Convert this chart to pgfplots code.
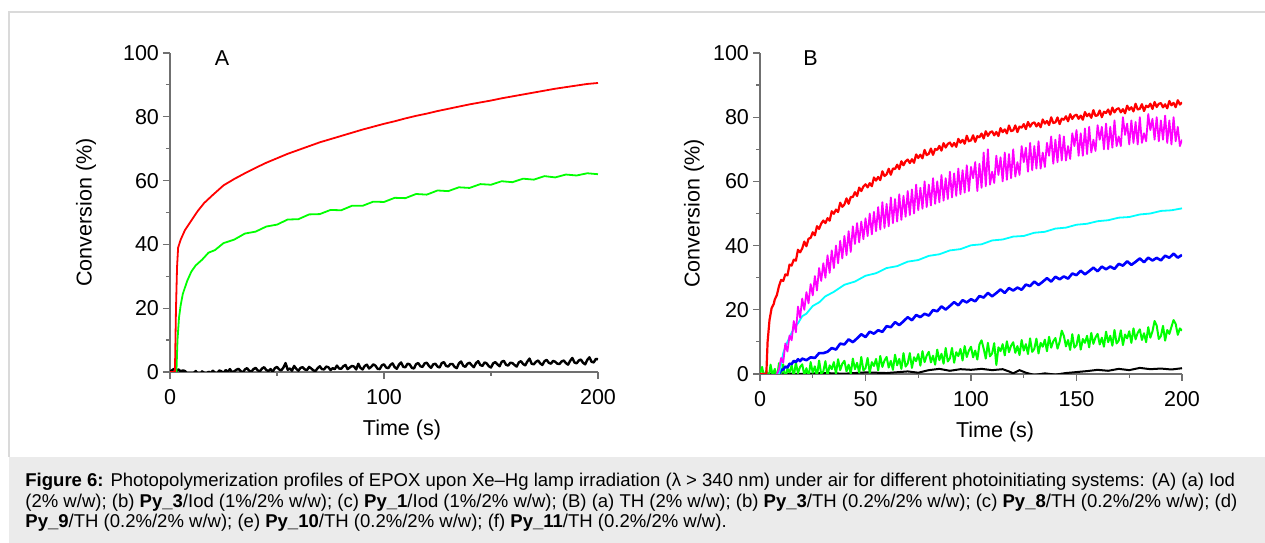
\documentclass[border=0pt]{standalone}
\usepackage{pgfplots}
\pgfplotsset{compat=1.18}
\usepackage{fontspec}
\setmainfont{Liberation Sans}
\definecolor{framegray}{HTML}{DADADA}
\definecolor{capgray}{HTML}{EBEBEB}
\definecolor{axgray}{HTML}{707070}
\definecolor{pR}{RGB}{255,0,0}
\definecolor{pG}{RGB}{0,255,0}
\definecolor{pB}{RGB}{0,0,255}
\definecolor{pC}{RGB}{0,255,255}
\definecolor{pM}{RGB}{255,0,255}
\pgfplotsset{
  myaxis/.style={
    scale only axis,
    anchor=south west,
    xmin=0, xmax=200, ymin=0, ymax=100,
    axis lines=left,
    axis line style={-, draw=axgray, line width=0.6bp},
    tick style={draw=axgray, line width=0.6bp},
    major tick length=3.5bp,
    minor tick length=2bp,
    tick align=outside,
    ytick={0,20,...,100},
    minor ytick={10,30,...,90},
    /pgf/number format/assume math mode=true,
    tick label style={font=\fontsize{10.8}{12}\selectfont},
    label style={font=\fontsize{10.8}{12}\selectfont},
    xticklabel style={yshift=-1.5bp},
    yticklabel style={xshift=1.5bp},
    ylabel={Conversion (\%)},
    xlabel={Time (s)},
    clip mode=individual,
    line join=round,
  }
}
\begin{document}
\begin{tikzpicture}
\useasboundingbox (0,0) rectangle (632.5bp,271.5bp);
\fill[white] (0,0) rectangle (632.5bp,271.5bp);
\fill[capgray] (4.5bp,0) rectangle (632.5bp,43bp);
\draw[framegray, line width=0.9bp] (4.5bp,43bp) -- (4.5bp,265.5bp) -- (632.5bp,265.5bp);

% ---------------- Panel A ----------------
\begin{axis}[myaxis,
  at={(85bp,85.5bp)}, width=214bp, height=159.5bp,
  xtick={0,100,200}, minor xtick={50,150},
  xlabel style={at={(axis description cs:0.542,0)}, anchor=center, yshift=-29bp},
  ylabel style={at={(axis description cs:-0.196,0.5)}, anchor=center},
]
\addplot[black, line width=1.2bp] coordinates {
(0,0) (1,0.6) (2,1.0) (3,0.4) (4,0.8) (5,0.2) (6,0.5) (7,0.3) (8,-0.5) (9,-0.8)
(10,-1) (11,-0.4) (12,0.3) (13,-0.6) (14,-0.9) (15,0.2) (16,-0.3) (17,-0.7) (18,0.1) (19,-0.4)
(20,0.4) (21,-0.2) (22,-0.6) (23,0.5) (24,0.2) (25,-0.3) (26,0.6) (27,0.1) (28,0.9) (29,-0.1)
(30,0.2) (31,0.7) (32,1.0) (33,0.3) (34,-0.2) (35,0.8) (36,1.2) (37,0.4) (38,0.1) (39,0.9)
(40,1.3) (41,0.5) (42,0.2) (43,1.1) (44,1.5) (45,0.6) (46,0.3) (47,0.9) (48,0.1) (49,1.2)
(50,1.6) (51,0.8) (52,0.5) (53,1.4) (54,2.8) (55,0.7) (56,1.1) (57,0.4) (58,1.9) (59,1.0)
(60,0.4) (61,1.3) (62,1.5) (63,0.8) (64,0.6) (65,1.6) (66,1.1) (67,0.5) (68,0.3) (69,1.2)
(70,1.8) (71,0.9) (72,0.8) (73,1.7) (74,1.5) (75,0.6) (76,1.2) (77,0.9) (78,2.0) (79,1.1)
(80,1.0) (81,1.8) (82,2.2) (83,0.9) (84,1.4) (85,1.9) (86,1.7) (87,0.8) (88,2.6) (89,1.3)
(90,0.8) (91,1.9) (92,2.3) (93,1.1) (94,1.6) (95,2.4) (96,2.0) (97,1.0) (98,0.9) (99,2.1)
(100,2.4) (101,1.4) (102,1.2) (103,2.2) (104,2.7) (105,1.5) (106,1.0) (107,2.3) (108,3.0) (109,1.6)
(110,1.5) (111,2.6) (112,2.4) (113,1.3) (114,1.1) (115,2.5) (116,2.8) (117,1.8) (118,1.6) (119,2.7)
(120,2.9) (121,1.9) (122,1.3) (123,2.4) (124,2.6) (125,1.7) (126,1.4) (127,2.8) (128,3.1) (129,1.9)
(130,1.7) (131,2.5) (132,2.5) (133,1.6) (134,1.2) (135,2.7) (136,3.3) (137,2.0) (138,1.6) (139,2.6)
(140,2.9) (141,2.1) (142,1.5) (143,2.8) (144,3.4) (145,2.2) (146,1.9) (147,3.0) (148,2.7) (149,1.8)
(150,1.4) (151,2.7) (152,3.1) (153,2.4) (154,1.8) (155,3.2) (156,3.5) (157,2.3) (158,2.0) (159,2.9)
(160,2.8) (161,2.2) (162,1.7) (163,3.0) (164,3.4) (165,2.5) (166,2.1) (167,3.3) (168,4.2) (169,2.6)
(170,2.4) (171,3.2) (172,3.6) (173,2.7) (174,2.2) (175,3.4) (176,3.8) (177,2.9) (178,2.6) (179,3.5)
(180,3.2) (181,2.6) (182,2.5) (183,3.3) (184,3.6) (185,2.8) (186,2.3) (187,3.5) (188,4.4) (189,3.0)
(190,2.7) (191,3.6) (192,3.9) (193,2.9) (194,2.4) (195,3.8) (196,4.6) (197,3.2) (198,3.0) (199,4.1)
(200,4.0)};
\addplot[pG, line width=0.9bp] coordinates {
(0,0) (3,0) (3.5,10) (4.2,17) (5,21) (6,24.5) (8,28.5) (10,31.5) (12,33.4) (15,35.2)
(18,37.4) (21,38.2) (25,40.4) (30,41.5) (35,43.4) (40,44.0) (45,45.6) (50,46.2) (55,47.8) (60,47.9)
(65,49.4) (70,49.5) (75,50.8) (80,50.7) (85,52.1) (90,52.1) (95,53.4) (100,53.3) (105,54.6) (110,54.5)
(115,55.8) (120,55.6) (125,56.9) (130,56.7) (135,57.9) (140,57.7) (145,58.9) (150,58.7) (155,59.8) (160,59.5)
(165,60.6) (170,60.3) (175,61.4) (180,61.0) (185,61.9) (190,61.6) (195,62.3) (200,62.0)};
\addplot[pR, line width=0.9bp] coordinates {
(0,0) (2.3,0) (2.8,20) (3.3,33) (3.8,39) (5,41.5) (7,44.5) (10,47.5) (13,50.5) (16,53)
(20,55.5) (25,58.5) (30,60.5) (35,62.3) (40,64) (45,65.6) (50,67) (55,68.4) (60,69.6) (65,70.8)
(70,72) (75,73) (80,74) (85,75) (90,76) (95,76.9) (100,77.8) (105,78.6) (110,79.5) (115,80.3)
(120,81) (125,81.8) (130,82.5) (135,83.2) (140,83.9) (145,84.5) (150,85.1) (155,85.8) (160,86.4) (165,87)
(170,87.6) (175,88.2) (180,88.8) (185,89.3) (190,89.8) (195,90.3) (200,90.6)};
\node[font=\fontsize{10.8}{12}\selectfont] at (axis cs:24.3,98.5) {A};
\end{axis}

% ---------------- Panel B ----------------
\begin{axis}[myaxis,
  at={(380bp,84.5bp)}, width=211bp, height=160.5bp,
  xtick={0,50,...,200}, minor xtick={25,75,...,175},
  xlabel style={at={(axis description cs:0.557,0)}, anchor=center, yshift=-29bp},
  ylabel style={at={(axis description cs:-0.156,0.5)}, anchor=center},
]
\addplot[black, line width=1bp] coordinates {
(0,0) (10,0.2) (20,0) (30,0.3) (40,0.1) (50,0.5) (60,0.3) (70,0.8) (75,0.4) (80,1.2)
(85,1.6) (90,1.0) (95,1.5) (100,1.3) (105,1.6) (110,1.2) (115,1.5) (118,0.8) (120,0.2) (123,1.2)
(126,0.4) (130,-0.3) (135,0.2) (140,-0.2) (145,0.3) (150,0.6) (155,0.9) (160,1.3) (165,1.0) (170,1.6)
(175,1.2) (180,1.9) (185,1.5) (190,1.7) (195,1.4) (200,1.8)};
\addplot[pG, line width=1bp] coordinates {
(0,0) (1,2.2) (2,-1.1) (3,1.0) (4,-1.8) (5,2.9) (6,-0.4) (7,1.6) (8,-1.5) (9,3.4)
(10,-0.2) (11,3.0) (12,-1.6) (13,1.7) (14,0.5) (15,2.7) (16,-0.9) (17,3.6) (18,0.2) (19,2.2)
(20,3.0) (21,-0.3) (22,1.8) (23,-1.0) (24,3.7) (25,0.4) (26,2.4) (27,-0.7) (28,4.2) (29,0.0)
(30,0.8) (31,4.0) (32,-0.6) (33,2.7) (34,1.5) (35,3.7) (36,0.1) (37,4.6) (38,1.2) (39,3.2)
(40,4.1) (41,0.8) (42,2.9) (43,0.1) (44,4.8) (45,1.5) (46,3.5) (47,0.4) (48,5.3) (49,1.1)
(50,1.8) (51,5.0) (52,0.4) (53,3.7) (54,2.5) (55,4.7) (56,1.1) (57,5.6) (58,2.2) (59,4.2)
(60,5.3) (61,2.0) (62,4.1) (63,1.3) (64,6.0) (65,2.7) (66,4.7) (67,1.6) (68,6.5) (69,2.3)
(70,3.3) (71,6.5) (72,1.9) (73,5.2) (74,4.0) (75,6.2) (76,2.6) (77,7.1) (78,3.7) (79,5.7)
(80,6.9) (81,3.6) (82,5.7) (83,2.9) (84,7.6) (85,4.3) (86,6.3) (87,3.2) (88,8.1) (89,3.9)
(90,4.9) (91,8.1) (92,3.5) (93,6.8) (94,5.6) (95,7.8) (96,4.2) (97,8.7) (98,5.3) (99,7.3)
(100,8.5) (101,5.2) (102,7.3) (103,4.5) (104,9.2) (105,10.5) (106,7.9) (107,4.8) (108,9.7) (109,5.5)
(110,6.4) (111,9.6) (112,2.8) (113,8.3) (114,7.1) (115,9.3) (116,5.8) (117,10.2) (118,6.8) (119,8.8)
(120,9.9) (121,6.6) (122,8.7) (123,5.9) (124,10.6) (125,7.3) (126,9.3) (127,6.2) (128,11.1) (129,6.9)
(130,7.8) (131,11.0) (132,6.4) (133,9.7) (134,8.5) (135,10.7) (136,7.1) (137,11.6) (138,8.2) (139,10.2)
(140,11.2) (141,7.9) (142,10.0) (143,13.5) (144,11.9) (145,8.6) (146,10.6) (147,7.5) (148,12.4) (149,8.2)
(150,9.0) (151,12.2) (152,7.6) (153,10.9) (154,9.7) (155,11.9) (156,8.3) (157,12.8) (158,9.4) (159,11.4)
(160,12.5) (161,9.2) (162,11.3) (163,8.5) (164,13.2) (165,9.9) (166,11.9) (167,8.8) (168,13.7) (169,9.5)
(170,10.4) (171,13.6) (172,9.0) (173,12.3) (174,11.1) (175,13.3) (176,9.7) (177,14.2) (178,10.8) (179,12.8)
(180,13.9) (181,10.6) (182,12.7) (183,9.9) (184,14.6) (185,11.3) (186,13.3) (187,16.5) (188,15.1) (189,10.9)
(190,11.8) (191,15.0) (192,10.4) (193,13.7) (194,12.5) (195,14.7) (196,16.8) (197,15.6) (198,12.2) (199,14.2)
(200,13.5)};
\addplot[pB, line width=1.3bp] coordinates {
(9,0) (10,1.2) (11,1.4) (12,2.3) (13,2.0) (14,3.2) (15,3.1) (16,4.1) (17,3.7) (18,4.6)
(19,4.0) (20,4.8) (22,4.3) (24,5.2) (26,5.0) (28,6.5) (30,6.5) (32,6.94) (34,8.08) (36,7.62)
(38,9.46) (40,9.2) (42,10.8) (44,9.9) (46,11.1) (48,12.4) (50,11.5) (52,13.18) (54,12.56) (56,13.64)
(58,13.12) (60,14.9) (62,14.58) (64,16.16) (66,15.24) (68,16.42) (70,17.7) (72,16.74) (74,18.38) (76,17.72)
(78,18.76) (80,18.2) (82,19.92) (84,19.54) (86,21.06) (88,20.08) (90,21.2) (92,22.4) (94,21.4) (96,23.0)
(98,22.3) (100,23.3) (102,22.64) (104,24.28) (106,23.82) (108,25.26) (110,24.2) (112,25.22) (114,26.34) (116,25.26)
(118,26.78) (120,26.0) (122,26.92) (124,26.24) (126,27.86) (128,27.38) (130,28.8) (132,27.72) (134,28.74) (136,29.86)
(138,28.78) (140,30.3) (142,29.5) (144,30.4) (146,29.7) (148,31.3) (150,30.8) (152,32.18) (154,31.06) (156,32.04)
(158,33.12) (160,32.0) (162,33.46) (164,32.62) (166,33.48) (168,32.74) (170,34.3) (172,33.76) (174,35.12) (176,33.98)
(178,34.94) (180,36.0) (182,34.82) (184,36.24) (186,35.36) (188,36.18) (190,35.4) (192,36.86) (194,36.22) (196,37.48)
(198,36.24) (200,37.1)};
\addplot[pC, line width=0.9bp] coordinates {
(9,0) (10,3) (11,6.5) (12,8.5) (14,11.5) (16,14.2) (18,15.8) (20,18) (22,18.8) (25,21.2)
(28,22.3) (31,24.2) (35,25.6) (40,27.8) (45,28.8) (50,30.6) (55,31.4) (60,33) (65,33.6) (70,35)
(75,35.5) (80,36.8) (85,37.3) (90,38.5) (95,38.9) (100,40.1) (105,40.4) (110,41.6) (115,41.9) (120,42.8)
(125,43.0) (130,44.0) (135,44.3) (140,45.3) (145,45.6) (150,46.5) (155,46.8) (160,47.6) (165,47.9) (170,48.7)
(175,48.9) (180,49.7) (185,50.0) (190,50.8) (195,51.0) (200,51.6)};
\addplot[pM, line width=0.9bp] coordinates {
(8,0) (9,1.5) (10,5) (11,3.5) (12,9.5) (13,7) (14,12) (15,10.5) (16,16.5) (17,13)
(18,21) (19,17.5) (20,23.5) (21,20) (22,25.5) (23,22) (24,28) (25,24.5) (26,30.5) (27,26)
(28,33) (29,29) (30,34.5) (31,30) (32,37) (33,31.5) (34,38.5) (35,33) (36,40) (37,34.5)
(38,41.5) (39,36) (40,43) (41,37) (42,44.5) (43,38) (44,46) (45,40.5) (46,47) (47,41)
(48,47.5) (49,42) (50,48.5) (51,43) (52,50) (53,43.5) (54,50.5) (55,44.5) (56,52) (57,45)
(58,53.5) (59,45.5) (60,53) (61,46) (62,55) (63,47) (64,54.5) (65,47.5) (66,56) (67,48)
(68,55.5) (69,49) (70,57) (71,49.5) (72,57.5) (73,50) (74,59) (75,51) (76,58) (77,51.5)
(78,60) (79,52) (80,59) (81,52.5) (82,61) (83,53) (84,60) (85,53.5) (86,62) (87,54)
(88,61) (89,54.5) (90,63) (91,55) (92,62.5) (93,55.5) (94,64) (95,56) (96,63.5) (97,56.5)
(98,65) (99,57) (100,64.5) (101,61) (102,66) (103,57) (104,65.5) (105,58) (106,69) (107,58.5)
(108,70) (109,59) (110,63) (111,59.5) (112,68) (113,62) (114,67.5) (115,60) (116,69) (117,60.5)
(118,68.5) (119,61) (120,70) (121,61.5) (122,66) (123,62) (124,71) (125,66) (126,70.5) (127,63)
(128,72) (129,63.5) (130,71) (131,64) (132,72.5) (133,64) (134,69) (135,64.5) (136,72) (137,68)
(138,74) (139,65.5) (140,73) (141,66) (142,74.5) (143,66.5) (144,74) (145,66.5) (146,71) (147,67)
(148,75) (149,71) (150,76) (151,68) (152,75) (153,68) (154,76.5) (155,68.5) (156,77) (157,69)
(158,73) (159,69.5) (160,77.5) (161,73) (162,77) (163,70) (164,78) (165,70) (166,77) (167,70.5)
(168,79) (169,71) (170,74) (171,71) (172,80) (173,74.5) (174,78) (175,71.5) (176,79) (177,72)
(178,78.5) (179,71.5) (180,80) (181,72) (182,75) (183,72.5) (184,81) (185,76) (186,79.5) (187,73)
(188,80) (189,72.5) (190,79) (191,73) (192,80.5) (193,72) (194,79) (195,71.5) (196,80) (197,72.5)
(198,77) (199,71) (200,73)};
\addplot[pR, line width=1.1bp] coordinates {
(0,0) (3,0) (3.6,10) (4.5,16.8) (5.5,20.5) (6.5,21.8) (7,23.2) (8,24.6) (9,27.4)
(10,29.3) (11,29.0) (12,31.0) (13,30.7) (14,34.1) (15,33.8) (16,35.6) (17,35.3) (18,38.7) (19,37.9)
(20,39.1) (21,41.25) (22,39.8) (23,42.15) (24,42.4) (25,44.15) (26,43.2) (27,46.05) (28,45.2) (29,46.85)
(30,47.8) (31,47.02) (32,48.54) (33,47.76) (34,50.68) (35,49.9) (36,51.22) (37,50.44) (38,53.36) (39,52.08)
(40,52.8) (41,54.71) (42,53.02) (43,55.13) (44,55.14) (45,56.65) (46,55.46) (47,58.07) (48,56.98) (49,58.39)
(50,59.1) (51,58.13) (52,59.46) (53,58.49) (54,61.22) (55,60.25) (56,61.38) (57,60.41) (58,63.14) (59,61.67)
(60,62.2) (61,63.94) (62,62.08) (63,64.02) (64,63.86) (65,65.2) (66,63.84) (67,66.28) (68,65.02) (69,66.26)
(70,66.8) (71,65.7) (72,66.9) (73,65.8) (74,68.4) (75,67.3) (76,68.3) (77,67.2) (78,69.8) (79,68.2)
(80,68.6) (81,70.23) (82,68.26) (83,70.09) (84,69.82) (85,71.05) (86,69.58) (87,71.91) (88,70.54) (89,71.67)
(90,72.1) (91,70.89) (92,71.98) (93,70.77) (94,73.26) (95,72.05) (96,72.94) (97,71.73) (98,74.22) (99,72.51)
(100,72.8) (101,74.36) (102,72.32) (103,74.08) (104,73.74) (105,74.9) (106,73.36) (107,75.62) (108,74.18) (109,75.24)
(110,75.6) (111,74.35) (112,75.4) (113,74.15) (114,76.6) (115,75.35) (116,76.2) (117,74.95) (118,77.4) (119,75.65)
(120,75.9) (121,77.43) (122,75.36) (123,77.09) (124,76.72) (125,77.85) (126,76.28) (127,78.51) (128,77.04) (129,78.07)
(130,78.4) (131,77.12) (132,78.14) (133,76.86) (134,79.28) (135,78.0) (136,78.82) (137,77.54) (138,79.96) (139,78.18)
(140,78.4) (141,79.92) (142,77.84) (143,79.56) (144,79.18) (145,80.3) (146,78.72) (147,80.94) (148,79.46) (149,80.48)
(150,80.8) (151,79.5) (152,80.5) (153,79.2) (154,81.6) (155,80.3) (156,81.1) (157,79.8) (158,82.2) (159,80.4)
(160,80.6) (161,82.1) (162,80.0) (163,81.7) (164,81.3) (165,82.4) (166,80.8) (167,83.0) (168,81.5) (169,82.5)
(170,82.8) (171,81.5) (172,82.5) (173,81.2) (174,83.6) (175,82.3) (176,83.1) (177,81.8) (178,84.2) (179,82.4)
(180,82.6) (181,84.06) (182,81.92) (183,83.58) (184,83.14) (185,84.2) (186,82.56) (187,84.72) (188,83.18) (189,84.14)
(190,84.4) (191,83.06) (192,84.02) (193,82.78) (194,85.04) (195,83.7) (196,84.46) (197,83.12) (198,85.28) (199,83.94)
(200,84.6)};
\node[font=\fontsize{10.8}{12}\selectfont] at (axis cs:24,98.5) {B};
\end{axis}

% ---------------- Caption ----------------
\begin{scope}[every node/.style={anchor=base west, inner sep=0pt, font=\fontsize{9.3}{11}\selectfont}]
\node at (12.5bp,28.4bp) {\textbf{Figure 6:} Photopolymerization profiles of EPOX upon Xe–Hg lamp irradiation (λ > 340 nm) under air for different photoinitiating systems: (A) (a) Iod};
\node at (12.5bp,18.0bp) {(2\% w/w); (b) \textbf{Py\_3}/Iod (1\%/2\% w/w); (c) \textbf{Py\_1}/Iod (1\%/2\% w/w); (B) (a) TH (2\% w/w); (b) \textbf{Py\_3}/TH (0.2\%/2\% w/w); (c) \textbf{Py\_8}/TH (0.2\%/2\% w/w); (d)};
\node at (12.5bp,7.6bp) {\textbf{Py\_9}/TH (0.2\%/2\% w/w); (e) \textbf{Py\_10}/TH (0.2\%/2\% w/w); (f) \textbf{Py\_11}/TH (0.2\%/2\% w/w).};
\end{scope}
\end{tikzpicture}
\end{document}
